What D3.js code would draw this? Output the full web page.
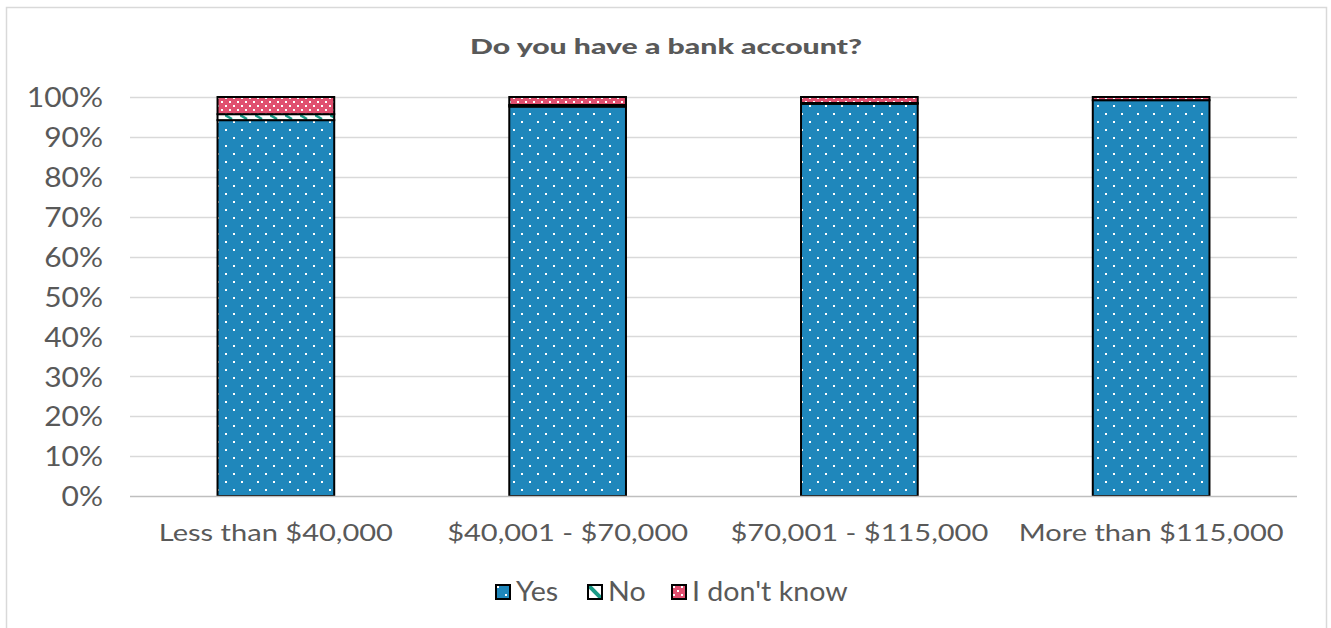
<!DOCTYPE html>
<html>
<head>
<meta charset="utf-8">
<script src="https://cdn.jsdelivr.net/npm/d3@7"></script>
<style>
  html, body { margin: 0; padding: 0; background: #fff; }
  svg { display: block; }
  svg text { font-family: Lato, "Open Sans", sans-serif; }
</style>
</head>
<body>
<svg id="chart" width="1331" height="628"></svg>
<script>
// Survey: share of respondents with a bank account, by household income
const categories = ["Less than $40,000", "$40,001 - $70,000", "$70,001 - $115,000", "More than $115,000"];
const seriesNames = ["Yes", "No", "I don't know"];
const yesValues = [94.2, 97.6, 98.3, 99.2];
const noValues = [1.5, 0.4, 0.2, 0.0];
const dontKnowValues = [4.3, 2.0, 1.5, 0.8];
const yTicks = [0, 10, 20, 30, 40, 50, 60, 70, 80, 90, 100];
const titleText = "Do you have a bank account?";

const svg = d3.select("#chart");
const W = 1331, H = 628;
const margin = { left: 130, right: 34, top: 97, bottom: 132 };
const textColor = "#595959";
const FONT = "Lato, 'Open Sans', sans-serif";

// Widen text runs to the geometric face's proportions
function widen(sel, factor) {
  sel.each(function () {
    const len = this.getComputedTextLength();
    d3.select(this).attr("textLength", len * factor).attr("lengthAdjust", "spacingAndGlyphs");
  });
}

// Fill patterns
const defs = svg.append("defs");
function dotPattern(id, bg, size, step) {
  const p = defs.append("pattern").attr("id", id).attr("patternUnits", "userSpaceOnUse")
    .attr("width", step * 2).attr("height", step * 2);
  p.append("rect").attr("width", step * 2).attr("height", step * 2).attr("fill", bg);
  p.append("rect").attr("x", 1).attr("y", 1).attr("width", size).attr("height", size).attr("fill", "#fff");
  p.append("rect").attr("x", 1 + step).attr("y", 1 + step).attr("width", size).attr("height", size).attr("fill", "#fff");
}
dotPattern("pat-yes", "#1f87bb", 2, 8);
dotPattern("pat-dk", "#e04f6f", 2, 4);
const pNo = defs.append("pattern").attr("id", "pat-no").attr("patternUnits", "userSpaceOnUse")
  .attr("width", 15).attr("height", 6);
pNo.append("rect").attr("width", 15).attr("height", 6).attr("fill", "#fff");
pNo.append("path").attr("d", "M0,1 L7,5").attr("stroke", "#1a9a86").attr("stroke-width", 2.5);
const pNoKey = defs.append("pattern").attr("id", "pat-no-key").attr("patternUnits", "objectBoundingBox")
  .attr("width", 1).attr("height", 1);
pNoKey.append("rect").attr("width", 14).attr("height", 14).attr("fill", "#fff");
pNoKey.append("path").attr("d", "M0,0 L14,14").attr("stroke", "#1a9a86").attr("stroke-width", 4);

const fills = { "Yes": "url(#pat-yes)", "No": "url(#pat-no)", "I don't know": "url(#pat-dk)" };
const keyFills = { "Yes": "url(#pat-yes)", "No": "url(#pat-no-key)", "I don't know": "url(#pat-dk)" };

// Outer frame
svg.append("rect").attr("x", 6.5).attr("y", 7.5).attr("width", 1320).attr("height", 640)
  .attr("fill", "#fff").attr("stroke", "#d9d9d9").attr("stroke-width", 1.5);

const x = d3.scaleBand().domain(categories).range([margin.left, W - margin.right]).paddingInner(0.6).paddingOuter(0.3);
const y = d3.scaleLinear().domain([0, 100]).range([H - margin.bottom, margin.top]);

// Gridlines
svg.append("g").selectAll("line").data(yTicks.filter(t => t > 0)).join("line")
  .attr("x1", margin.left).attr("x2", W - margin.right)
  .attr("y1", d => Math.round(y(d)) + 0.5).attr("y2", d => Math.round(y(d)) + 0.5)
  .attr("stroke", "#d9d9d9").attr("stroke-width", 1.5);

// Y axis labels
const yAxis = d3.axisLeft(y).tickValues(yTicks).tickFormat(d => d + "%").tickSize(0).tickPadding(0);
const gy = svg.append("g").attr("transform", `translate(${103},0)`).call(yAxis)
  .attr("font-family", FONT);
gy.select(".domain").remove();
gy.selectAll("text").attr("fill", textColor).style("font-size", "27px").attr("dy", "0.36em");
widen(gy.selectAll("text"), 1.11);

// Stacked bars
const rows = categories.map((c, i) => ({ category: c, "Yes": yesValues[i], "No": noValues[i], "I don't know": dontKnowValues[i] }));
const stacked = d3.stack().keys(seriesNames)(rows);
svg.append("g").selectAll("g").data(stacked).join("g")
  .attr("fill", d => fills[d.key])
  .selectAll("rect").data(d => d.filter(s => s[1] - s[0] > 0)).join("rect")
  .attr("x", d => x(d.data.category))
  .attr("width", x.bandwidth())
  .attr("y", d => y(d[1]))
  .attr("height", d => y(d[0]) - y(d[1]))
  .attr("stroke", "#000").attr("stroke-width", 2);

// Baseline
svg.append("line").attr("x1", margin.left).attr("x2", W - margin.right)
  .attr("y1", y(0) + 0.5).attr("y2", y(0) + 0.5).attr("stroke", "#bfbfbf").attr("stroke-width", 1.5);

// Category labels
const xAxis = d3.axisBottom(x).tickSize(0).tickPadding(0);
const gx = svg.append("g").attr("transform", `translate(0,${532})`).call(xAxis)
  .attr("font-family", FONT);
gx.select(".domain").remove();
gx.selectAll("text").attr("fill", textColor).style("font-size", "24px").attr("dy", "0.36em");
widen(gx.selectAll("text"), 1.21);

// Title
const title = svg.append("text").attr("x", 666).attr("y", 54).attr("text-anchor", "middle")
  .attr("fill", textColor).style("font-size", "21px").style("font-weight", "900").text(titleText);
widen(title, 392 / title.node().getComputedTextLength());

// Legend
const legendX = [496, 588, 672];
const legend = svg.append("g").selectAll("g").data(seriesNames).join("g")
  .attr("transform", (d, i) => `translate(${legendX[i]},${585})`);
legend.append("rect").attr("width", 14).attr("height", 14).attr("fill", d => keyFills[d])
  .attr("stroke", "#000").attr("stroke-width", 2);
const legendText = legend.append("text").attr("x", 20).attr("y", 7).attr("dy", "0.36em")
  .attr("fill", textColor).style("font-size", "26px").text(d => d);
widen(legendText, 1.1);
</script>
</body>
</html>
